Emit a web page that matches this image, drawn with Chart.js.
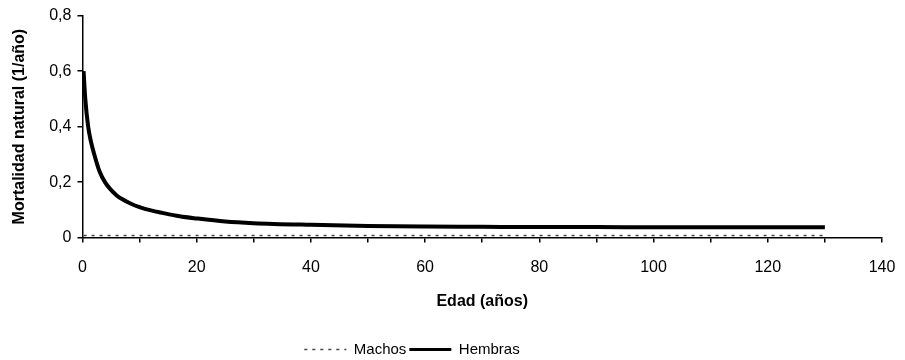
<!DOCTYPE html>
<html>
<head>
<meta charset="utf-8">
<script src="https://cdn.jsdelivr.net/npm/chart.js@4/dist/chart.umd.min.js"></script>
<style>
  html, body { margin: 0; padding: 0; background: #fff; }
  #wrap { width: 905px; height: 360px; }
</style>
</head>
<body>
<div id="wrap"><canvas id="mortChart" width="905" height="360"></canvas></div>
<script>
// ages (años) and natural mortality (1/año)
const edades = [0.2, 0.5, 1, 1.5, 2, 3, 4, 5, 6, 7, 8.5, 10, 12, 14, 17, 20, 25, 30, 40, 50, 60, 70, 80, 90, 100, 110, 120, 130];
const hembras = [0.60, 0.50, 0.40, 0.345, 0.305, 0.238, 0.198, 0.172, 0.152, 0.138, 0.122, 0.110, 0.098, 0.089, 0.077, 0.069, 0.058, 0.052, 0.046, 0.042, 0.040, 0.039, 0.038, 0.038, 0.037, 0.037, 0.037, 0.037];
const machos = [0.008, 0.008, 0.008, 0.008, 0.008, 0.008, 0.008, 0.008, 0.008, 0.008, 0.008, 0.008, 0.008, 0.008, 0.008, 0.008, 0.008, 0.008, 0.008, 0.008, 0.008, 0.008, 0.008, 0.008, 0.008, 0.008, 0.008, 0.008];
const seriesNames = ['Machos', 'Hembras'];
const xTicks = [0, 20, 40, 60, 80, 100, 120, 140];
const yTicks = ['0', '0,2', '0,4', '0,6', '0,8'];

const FONT = 'Liberation Sans, Arial, sans-serif';
Chart.defaults.font.family = FONT;
Chart.defaults.color = '#000';

const toPts = (vals) => vals.map((v, i) => ({ x: edades[i], y: v }));

// legend in the original sits a bit left of centre
const nudgeLegend = {
    id: 'nudgeLegend',
    afterLayout(chart) {
        const lg = chart.legend;
        if (!lg) return;
        lg.left -= 34;
        lg.right -= 34;
    }
};

new Chart(document.getElementById('mortChart').getContext('2d'), {
    type: 'line',
    data: {
        datasets: [
            {
                label: seriesNames[0],
                data: toPts(machos),
                borderColor: '#444',
                borderWidth: 1.5,
                borderDash: [3, 5],
                pointRadius: 0,
                cubicInterpolationMode: 'monotone'
            },
            {
                label: seriesNames[1],
                data: toPts(hembras),
                borderColor: '#000',
                borderWidth: 4,
                pointRadius: 0,
                cubicInterpolationMode: 'monotone'
            }
        ]
    },
    plugins: [nudgeLegend],
    options: {
        responsive: false,
        animation: false,
        layout: { padding: { top: 8, right: 23, left: 10, bottom: -7 } },
        plugins: {
            tooltip: { enabled: false },
            legend: {
                position: 'bottom',
                labels: {
                    usePointStyle: true,
                    pointStyle: 'line',
                    pointStyleWidth: 42,
                    boxHeight: 12,
                    padding: 3,
                    font: { size: 15 },
                    color: '#000',
                    // point style legend ignores dataset dash, so copy it over
                    generateLabels: (chart) => Chart.defaults.plugins.legend.labels.generateLabels(chart).map((item, i) => {
                        const ds = chart.data.datasets[i];
                        item.lineDash = ds.borderDash || [];
                        item.lineWidth = i === 0 ? 1.5 : 3;
                        item.strokeStyle = ds.borderColor;
                        return item;
                    })
                }
            }
        },
        scales: {
            x: {
                type: 'linear',
                min: 0,
                max: 140,
                afterFit: (s) => { s.paddingRight = 0; },
                border: { display: true, color: '#000', width: 1.5 },
                grid: { drawOnChartArea: false, drawTicks: true, tickLength: 5, color: '#000', lineWidth: 1.5 },
                ticks: {
                    stepSize: 10,
                    padding: 15,
                    maxRotation: 0,
                    autoSkip: false,
                    font: { size: 16 },
                    color: '#000',
                    callback: (v) => xTicks.includes(v) ? String(v) : ''
                },
                title: {
                    display: true,
                    text: 'Edad (años)',
                    font: { size: 16, weight: 'bold' },
                    color: '#000',
                    padding: { top: 0, bottom: 28 }
                }
            },
            y: {
                min: 0,
                max: 0.8,
                border: { display: true, color: '#000', width: 1.5 },
                grid: { drawOnChartArea: false, drawTicks: true, tickLength: 5, color: '#000', lineWidth: 1.5 },
                ticks: {
                    stepSize: 0.2,
                    padding: 6,
                    font: { size: 16 },
                    color: '#000',
                    callback: (v, i) => yTicks[i]
                },
                title: {
                    display: true,
                    text: 'Mortalidad natural (1/año)',
                    font: { size: 16, weight: 'bold' },
                    color: '#000',
                    padding: { top: 0, bottom: 14 }
                }
            }
        }
    }
});
</script>
</body>
</html>
